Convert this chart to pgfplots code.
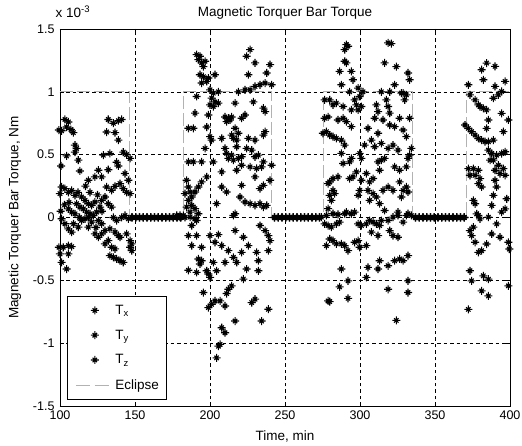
\documentclass[border=0pt]{standalone}
\usepackage{fontspec}
\setmainfont{Liberation Sans}
\usepackage{pgfplots}
\pgfplotsset{compat=1.18}
\newcommand{\fs}{\fontsize{13.5}{16}\selectfont}
\newcommand{\ft}{\fontsize{12.5}{15}\selectfont}
\pgfdeclareplotmark{mstar}{%
 \pgfpathmoveto{\pgfqpoint{0pt}{\pgfplotmarksize}}\pgfpathlineto{\pgfqpoint{0pt}{-\pgfplotmarksize}}%
 \pgfpathmoveto{\pgfqpoint{\pgfplotmarksize}{0pt}}\pgfpathlineto{\pgfqpoint{-\pgfplotmarksize}{0pt}}%
 \pgfpathmoveto{\pgfqpoint{0.55\pgfplotmarksize}{0.55\pgfplotmarksize}}\pgfpathlineto{\pgfqpoint{-0.55\pgfplotmarksize}{-0.55\pgfplotmarksize}}%
 \pgfpathmoveto{\pgfqpoint{0.55\pgfplotmarksize}{-0.55\pgfplotmarksize}}\pgfpathlineto{\pgfqpoint{-0.55\pgfplotmarksize}{0.55\pgfplotmarksize}}%
 \pgfusepathqstroke
 \pgfpathcircle{\pgfpointorigin}{0.38\pgfplotmarksize}\pgfusepathqfill}
\pgfplotsset{tstar/.style={only marks, mark=mstar, mark size=4pt, black, line width=1.1pt}}
\begin{document}
\begin{tikzpicture}[x=1pt,y=1pt]
\useasboundingbox (-60,-40) rectangle (462,406);
\begin{axis}[at={(0,0)},anchor=south west,
  width=450pt,height=377pt,scale only axis,
  xmin=100,xmax=400,ymin=-1.5,ymax=1.5,
  xtick={100,150,...,400}, ytick={-1.5,-1,...,1.5},
  grid=major, major grid style={black, dash pattern=on 3.5pt off 3pt, line width=0.6pt},
  tick align=inside, major tick length=4pt, tick style={black,line width=0.6pt},
  axis line style={black, line width=0.8pt},
  /pgf/number format/assume math mode=true,
  ticklabel style={font=\ft},
  xticklabel style={yshift=-1.5pt},
  yticklabel style={xshift=-2pt},
  title={Magnetic Torquer Bar Torque},
  title style={font=\fs, at={(axis description cs:0.5,1)}, anchor=south, yshift=0pt},
  xlabel={Time, min},
  xlabel style={font=\fs, at={(axis description cs:0.5,-0.082)}, anchor=center},
  ylabel={Magnetic Torquer Bar Torque, Nm},
  ylabel style={font=\fs, at={(axis description cs:-0.1,0.5)}, anchor=center},
  clip=false,
  legend style={at={(axis description cs:0.0155,0.016)}, anchor=south west,
    draw=black, line width=0.6pt, fill=white, font=\fs, row sep=10pt, inner xsep=5pt, inner ysep=7pt,
    cells={anchor=west}},
  legend image code/.code={\path (0pt,0pt) (40pt,0pt); \draw[#1,mark repeat=1] plot coordinates {(22pt,0pt)};},
]
\node[anchor=south west, font=\fs, inner sep=0pt] at (axis description cs:-0.01,1.03) {x 10\raisebox{0.7ex}{\fontsize{9.5}{10}\selectfont -3}};

% ---------- T_x ----------
\addplot[tstar] coordinates {
(103.3,0.78)(105.6,0.76)(104.4,0.72)(107.3,0.70)(101.1,0.69)(108.9,0.675)(99.3,0.696)
(110,0.576)(111.1,0.55)(110,0.52)(112.2,0.456)(104.4,0.49)(100.7,0.41)(113.3,0.37)
(132.2,0.78)(135.6,0.75)(138.9,0.77)(141.1,0.78)(131.1,0.68)(136.7,0.675)(138.9,0.616)
(128.9,0.496)(133.3,0.51)(142.2,0.52)(144.4,0.50)(146.7,0.47)
(137.8,0.44)(138.9,0.41)(125.6,0.376)(132.2,0.38)(143.3,0.35)(145.6,0.296)
(112,0.2)(117,0.25)(120,0.2)(125,0.18)(128,0.05)(113,0)(119,0)(124,-0.08)(109,-0.05)(106,0.12)(103,0.1)(100.5,0.05)
(148,0)(150.5,0)(153,0)(155.5,0)(158,0)(160.5,0)(163,0)(165.5,0)(168,0)(170.5,0)(173,0)(175.5,0)(178,0)(180.5,0)
(191.1,1.296)(193.3,1.283)(192.2,1.256)(194.4,1.23)(196.7,1.243)(195.6,1.2)
(193.3,1.136)(195.6,1.12)(198.9,1.11)(194.4,1.07)(197.8,1.083)(203.3,1.136)
(226.7,1.336)(224.4,1.283)(230,1.23)(225.6,1.136)(240,1.216)(237.8,1.15)
(200,1.016)(202.2,0.99)(205.6,1.0)(218.9,1.0)(223.3,1.016)(226.7,1.016)(230,1.043)(233.3,1.056)(236.7,1.07)(241.1,1.056)(191.1,0.963)
(201.1,0.95)(203.3,0.92)(205.6,0.91)(202.2,0.883)(200,0.896)
(216.7,0.91)(228.9,0.92)(235.6,0.87)(236.7,0.843)(190,0.83)(198.9,0.816)
(210,0.8)(212.2,0.79)(213.3,0.776)(214.4,0.8)(211.1,0.763)(221.1,0.79)(223.3,0.816)
(243,0)(245.5,0)(248,0)(250.5,0)(253,0)(255.5,0)(258,0)(260.5,0)(263,0)(265.5,0)(268,0)(270.5,0)(273,0)
(290.9,1.376)(292,1.363)(289.8,1.336)(289.8,1.243)(290.9,1.23)
(286.4,1.163)(294.2,1.163)(295.3,1.096)(287.6,1.056)
(318.7,1.39)(320.9,1.384)(316.4,1.23)(324.2,1.2)(332,1.15)(333.1,1.096)
(298.7,1.03)(302,1.0)(293.1,1.0)(323.1,1.056)(314.2,1.0)(319.8,1.0)(327.6,0.99)(330.9,0.976)(299.8,0.963)(296.4,0.936)(297.6,0.896)(300.9,0.883)(294.2,0.856)(298.7,0.856)
(276.4,0.936)(279.8,0.936)(282,0.896)(284.2,0.91)(288.7,0.883)(276.4,0.79)(278.7,0.8)(285.3,0.776)(288.7,0.79)(290.9,0.763)
(337,0)(339.5,0)(342,0)(344.5,0)(347,0)(349.5,0)(352,0)(354.5,0)(357,0)(359.5,0)(362,0)(364.5,0)(367,0)(369.5,0)
(384.4,1.229)(390,1.203)(381.1,1.176)(382.2,1.096)(372.2,1.056)(390,1.043)(396.7,1.083)(394.4,1.003)(392.2,0.976)(388.9,0.949)
(373.3,0.976)(376.7,0.936)(378.9,0.896)(380,0.883)(382.2,0.869)(384.4,0.856)(394.4,0.829)(398.9,0.776)(385.6,0.776)(384.4,0.709)
(370,0.736)(372.2,0.709)(374.4,0.683)(376.7,0.656)(378.9,0.629)(381.1,0.616)(383.3,0.603)(385.6,0.603)(388.9,0.616)(395.6,0.683)
};
\addlegendentry{T\textsubscript{x}}

% ---------- T_y ----------
\addplot[tstar] coordinates {
(101.1,0.243)(103.3,0.23)(105.6,0.2)(107.8,0.216)(100,0.19)(110,0.176)
(118.9,0.296)(123.3,0.323)(127.8,0.323)(131.1,0.243)(134.4,0.216)(136.7,0.248)(140,0.27)(142.2,0.23)(144.4,0.2)(146.7,0.19)
(114.4,0.163)(116.7,0.136)(118.9,0.109)(121.1,0.096)(123.3,0.123)(115.6,0.069)(117.8,0.043)(120,0.029)(122.2,0.016)(124.4,0.043)(126.7,0.083)(113.3,0.083)(111.1,0.109)(127.8,0.136)(130,0.163)(132.2,0.109)(134.4,0.083)(110,0.029)(107.8,0.043)(105.6,0.069)(125.6,-0.024)(127.8,-0.05)(121.1,-0.037)(118.9,-0.077)(116.7,-0.01)(114.4,-0.024)
(148,0)(150.5,0)(153,0)(155.5,0)(158,0)(160.5,0)(163,0)(165.5,0)(168,0)(170.5,0)(173,0)(175.5,0)(178,0)(180.5,0)
(185.6,0.71)(188.9,0.71)(197.8,0.72)(216.7,0.71)(218.9,0.67)(217.8,0.616)(215.6,0.63)(236.7,0.683)(235.6,0.656)(200,0.643)(201.1,0.616)(207.8,0.63)(225.6,0.63)(230,0.616)(214.4,0.656)
(196.7,0.55)(210,0.55)(217.8,0.563)(224.4,0.55)(227.8,0.536)(211.1,0.51)(214.4,0.496)(212.2,0.47)(215.6,0.456)(218.9,0.47)(221.1,0.483)(230,0.483)(232.2,0.496)
(185.6,0.443)(188.9,0.443)(194.4,0.443)(202.2,0.443)(207.8,0.363)(217.8,0.376)(221.1,0.416)(226.7,0.403)(231.1,0.39)(234.4,0.403)(235.6,0.443)(241.1,0.416)
(184.4,0.296)(185.6,0.243)(186.7,0.203)(187.8,0.163)(190,0.203)(192.2,0.243)(194.4,0.283)(197.8,0.323)(183.3,0.19)(185.6,0.136)(187.8,0.096)(190,0.07)(184.4,0.083)(186.7,0.043)(182.2,0.016)(180,0.003)
(207.8,0.243)(211.1,0.203)(220,0.163)(223.3,0.123)(226.7,0.11)(230,0.096)(233.3,0.11)(235.6,0.083)(237.8,0.096)(221.1,0.256)(230,0.323)(235.6,0.256)(240,0.296)(204.4,0.11)(216.7,0.03)(233.3,0.23)
(243,0)(245.5,0)(248,0)(250.5,0)(253,0)(255.5,0)(258,0)(260.5,0)(263,0)(265.5,0)(268,0)(270.5,0)(273,0)
(275.3,0.67)(277.6,0.683)(279.8,0.656)(282,0.643)(284.2,0.63)(287.6,0.616)(289.8,0.576)(294.2,0.723)
(310.9,0.896)(312,0.843)(317.6,0.936)(318.7,0.883)(319.8,0.83)(315.3,0.776)(319.8,0.736)(323.1,0.723)(326.4,0.79)(328.7,0.696)(330.9,0.643)(333.1,0.79)(328.7,0.99)(329.8,0.936)(309.8,0.79)(305.3,0.71)(307.6,0.616)(312,0.67)(309.8,0.563)(314.2,0.59)(318.7,0.55)(322,0.576)(325.3,0.536)
(334.2,0.55)(333.1,0.496)(332,0.47)(330.9,0.403)(323.1,0.403)(326.4,0.376)(316.4,0.47)(314.2,0.456)(312,0.443)(313.1,0.376)(308.7,0.31)(306.4,0.283)(304.2,0.35)(300.9,0.47)(299.8,0.51)(303.1,0.576)(294.2,0.47)(293.1,0.443)(288.7,0.43)(287.6,0.51)
(337,0)(339.5,0)(342,0)(344.5,0)(347,0)(349.5,0)(352,0)(354.5,0)(357,0)(359.5,0)(362,0)(364.5,0)(367,0)(369.5,0)
(396.7,0.523)(394.4,0.509)(391.1,0.496)(387.8,0.509)(385.6,0.536)(386.7,0.456)(388.9,0.456)(392.2,0.416)(390,0.376)(393.3,0.349)(395.6,0.389)(396.7,0.336)
(372.2,0.389)(375.6,0.389)(378.9,0.376)(380,0.309)(378.9,0.269)(381.1,0.243)(376.7,0.336)(373.3,0.336)(390,0.296)(391.1,0.243)(388.9,0.176)
(375.6,0.136)(376.7,0.109)(387.8,0.096)(397.8,0.149)(396.7,0.069)(394.4,0.043)(377.8,0.029)(378.9,0.016)(380,-0.011)(385.6,0.003)
};
\addlegendentry{T\textsubscript{y}}

% ---------- T_z ----------
\addplot[tstar] coordinates {
(103.3,-0.05)(105.6,-0.09)(101.1,-0.01)(107.8,-0.117)(112.2,-0.077)(135.6,0)(137.8,-0.024)(141.1,0)(143.3,0.016)(145.6,-0.01)(133.3,-0.09)(136.7,-0.117)(130,-0.104)(123.3,-0.13)(125.6,-0.157)(127.8,-0.13)(132.2,-0.184)(130,-0.21)(140,-0.157)(144.4,-0.13)(146.7,-0.184)(147.8,-0.21)(138.9,-0.144)
(99.3,-0.237)(102.2,-0.237)(105.6,-0.224)(107.8,-0.232)(100,-0.29)(105.6,-0.29)(101.1,-0.357)(104.4,-0.41)
(133.3,-0.304)(135.6,-0.317)(137.8,-0.33)(140,-0.344)(142.2,-0.357)(134.4,-0.237)(136.7,-0.25)(146.7,-0.237)(147.8,-0.264)
(148,0)(150.5,0)(153,0)(155.5,0)(158,0)(160.5,0)(163,0)(165.5,0)(168,0)(170.5,0)(173,0)(175.5,0)(178,0)(180.5,0)
(177.8,0.016)(180,0.016)(183.3,0.0)(186.7,0.003)(190,-0.01)(192.2,0.03)(215.6,0.016)(187.8,-0.064)(191.1,-0.024)
(185.6,-0.144)(191.1,-0.144)(200,-0.144)(205.6,-0.136)(203.3,-0.197)(207.8,-0.224)(212.2,-0.264)(215.6,-0.317)(217.8,-0.357)(221.1,-0.277)(216.7,-0.104)(222.2,-0.157)(225.6,-0.224)(231.1,-0.277)(233.3,-0.064)(236.7,-0.104)(238.9,-0.144)(240,-0.184)(238.9,-0.264)(232.2,-0.344)(232.2,-0.424)(224.4,-0.41)(222.2,-0.49)
(187.8,-0.224)(194.4,-0.237)(192.2,-0.33)(194.4,-0.344)(193.3,-0.37)(202.2,-0.357)(210,-0.357)(204.4,-0.424)(185.6,-0.42)(191.1,-0.437)(197.8,-0.424)(198.9,-0.45)(200,-0.477)
(214.4,-0.544)(212.2,-0.571)(211.1,-0.605)(195.6,-0.597)(203.3,-0.664)(201.1,-0.69)(198.9,-0.717)(206.7,-0.664)(210,-0.704)(230,-0.65)(227.8,-0.677)(238.9,-0.73)(216.7,-0.824)(234.4,-0.824)(207.8,-0.877)(210,-0.917)(205.6,-1.024)(206.7,-1.01)(204.4,-1.117)
(243,0)(245.5,0)(248,0)(250.5,0)(253,0)(255.5,0)(258,0)(260.5,0)(263,0)(265.5,0)(268,0)(270.5,0)(273,0)
(285.3,0.323)(282,0.31)(279.8,0.283)(282,0.216)(283.1,0.19)(279.8,0.176)(280.9,0.136)(278.7,0.27)(297.6,0.363)(295.3,0.323)(293.1,0.31)(300.9,0.296)(299.8,0.216)(298.7,0.176)(305.3,0.216)(308.7,0.19)(310.9,0.163)(313.1,0.11)(306.4,0.136)(315.3,0.216)(318.7,0.243)(322,0.216)(326.4,0.283)(328.7,0.216)(330.9,0.243)(332,0.203)(327.6,0.163)
(278.7,0.07)(290.9,0.043)(294.2,0.03)(316.4,0.056)(325.3,0.043)(332,0.03)
(274.2,0.003)(277.6,0.016)(282,0.03)(285.3,0.024)(289.8,0.03)(294.2,0.03)(296.4,0.043)(276.4,-0.051)(278.7,-0.064)(280.9,-0.077)(284.2,-0.051)(286.4,-0.037)(298.7,-0.051)(300.9,-0.064)(304.2,-0.051)(306.4,-0.024)(308.7,-0.037)(310.9,-0.051)(313.1,-0.064)(314.2,-0.024)(318.7,-0.024)(322,0.003)(325.3,0.016)(328.7,-0.037)(330.9,0.016)(334.2,0.016)(307.6,-0.117)(312,-0.144)(319.8,-0.104)(322,-0.144)(325.3,-0.157)
(279.8,-0.171)(282,-0.184)(284.2,-0.21)(287.6,-0.21)(289.8,-0.224)(292,-0.264)(277.6,-0.224)(296.4,-0.197)(298.7,-0.184)(299.8,-0.237)(304.2,-0.224)
(313.1,-0.344)(312,-0.41)(318.7,-0.384)(323.1,-0.344)(326.4,-0.33)(328.7,-0.344)(332,-0.304)(305.3,-0.397)(304.2,-0.477)(287.6,-0.41)(292,-0.504)(286.4,-0.552)(278.7,-0.664)(279.8,-0.669)(292,-0.643)(318.7,-0.571)(332,-0.504)(332,-0.597)(324.2,-0.819)
(337,0)(339.5,0)(342,0)(344.5,0)(347,0)(349.5,0)(352,0)(354.5,0)(357,0)(359.5,0)(362,0)(364.5,0)(367,0)(369.5,0)
(391.1,-0.051)(375.6,-0.077)(373.3,-0.104)(374.4,-0.144)(376.7,-0.197)(378.9,-0.277)(381.1,-0.264)(384.4,-0.211)(387.8,-0.131)(393.3,-0.157)(398.9,-0.197)(399.5,-0.251)
(373.3,-0.424)(374.4,-0.504)(382.2,-0.464)(385.6,-0.491)(381.1,-0.584)(385.6,-0.624)(398.9,-0.544)(372.2,-0.731)
};
\addlegendentry{T\textsubscript{z}}

% ---------- Eclipse ----------
\addplot[gray!60, line width=0.9pt, dash pattern=on 13pt off 4pt,
  legend image code/.code={\path (0pt,0pt) (40pt,0pt); \draw[gray!60, line width=0.9pt, dash pattern=on 14pt off 5pt] (3pt,0pt) -- (37pt,0pt);}]
coordinates {(100,1)(146.5,1)(146.5,0)(182.2,0)(182.2,1)(241.1,1)(241.1,0)(275.4,0)(275.4,1)(335,1)(335,0)(371,0)(371,1)(400,1)};
\addlegendentry{Eclipse}
\end{axis}
\end{tikzpicture}
\end{document}
